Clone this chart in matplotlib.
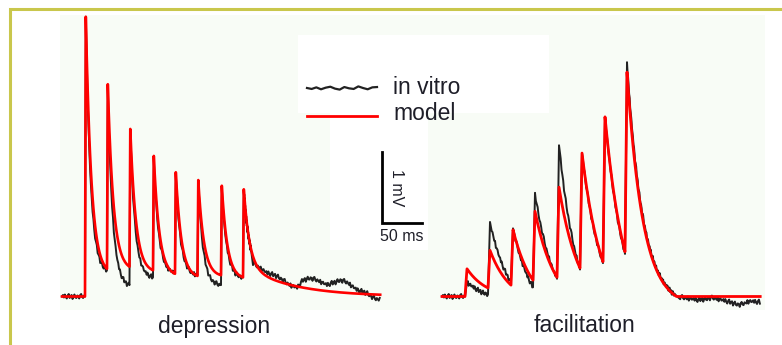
import numpy as np
import matplotlib.pyplot as plt
from matplotlib.patches import Rectangle

plt.rcParams['font.family'] = ['Liberation Sans', 'DejaVu Sans']

# pulse times (ms from first pulse) and responses (mV above rest)
dep_times = [0, 27.5, 55.6, 85, 112.5, 140.6, 170, 197.5]
dep_model_peaks = [3.94, 2.99, 2.36, 1.98, 1.75, 1.64, 1.56, 1.51]
dep_model_troughs = [0.39, 0.42, 0.37, 0.32, 0.29, 0.30, 0.27]
dep_vitro_peaks = [3.94, 2.95, 2.32, 1.95, 1.72, 1.62, 1.54, 1.49]
dep_vitro_troughs = [0.37, 0.16, 0.27, 0.33, 0.30, 0.16, 0.27]
dep_vitro_tail_t = [210, 227.5, 240, 256, 265, 272.5, 281, 290, 302.5, 319, 327.5, 340, 352.5, 360, 369]
dep_vitro_tail_v = [0.47, 0.33, 0.29, 0.16, 0.12, 0.23, 0.26, 0.23, 0.16, 0.23, 0.20, 0.09, 0.05, -0.02, -0.05]

fac_times = [0, 28.75, 57.5, 85, 115, 143.75, 172.5, 200]
fac_model_peaks = [0.39, 0.65, 0.94, 1.20, 1.54, 2.02, 2.53, 3.16]
fac_model_troughs = [0.12, 0.16, 0.23, 0.27, 0.40, 0.49, 0.63]
fac_vitro_peaks = [0.20, 1.05, 0.96, 1.46, 2.13, 2.02, 2.53, 3.30]
fac_vitro_troughs = [0.03, 0.20, 0.13, 0.25, 0.38, 0.47, 0.60]
fac_vitro_tail_t = [269, 290, 310, 331, 344, 355, 369]
fac_vitro_tail_v = [-0.01, -0.05, -0.02, -0.08, -0.12, -0.07, -0.08]

t_start = -28.75
t_end = 369

# recording noise of the in vitro trace (mV), repeated along it
noise = [0.00, 0.03, -0.02, 0.04, -0.01, -0.04, 0.02, 0.05, -0.03, 0.01, 0.03,
         -0.05, 0.00, 0.04, -0.02, -0.03, 0.02, 0.01, -0.04, 0.03, 0.05, -0.01,
         -0.03, 0.02, 0.00, -0.02, 0.04, -0.04, 0.01, 0.03, -0.01]


def build(times, peaks, troughs, tau, rise, tail, tail_until=None,
          tail_t=None, tail_v=None, noisy=False):
    ts = list(np.linspace(t_start, times[0], 25))
    vs = [0.0] * 25
    fixed = [False] * 24 + [True]
    for k, t0 in enumerate(times):
        tp = t0 + rise
        ts.append(tp); vs.append(peaks[k]); fixed.append(True)
        if k < len(times) - 1:
            isi = times[k + 1] - tp
            e = np.exp(-isi / tau)
            floor = (troughs[k] - peaks[k] * e) / (1 - e)
            dt = np.linspace(0, isi, 26)[1:]
            seg = floor + (peaks[k] - floor) * np.exp(-dt / tau)
            ts += list(tp + dt); vs += list(seg)
            fixed += [False] * 24 + [True]
    floor, frac, tau1, tau2 = tail
    stop = tail_until if tail_until else t_end - tp
    dt = np.linspace(0, stop, 90)[1:]
    seg = floor + (peaks[-1] - floor) * (frac * np.exp(-dt / tau1) + (1 - frac) * np.exp(-dt / tau2))
    seg = np.maximum(seg, 0)
    ts += list(tp + dt); vs += list(seg); fixed += [False] * len(dt)
    if tail_t is not None:
        grid = np.arange(tail_t[0], tail_t[-1] + 0.1, 1.2)
        ts += list(grid); vs += list(np.interp(grid, tail_t, tail_v))
        fixed += [False] * len(grid)
    ts = np.array(ts); vs = np.array(vs)
    if noisy:
        for i in range(len(vs)):
            if not fixed[i]:
                vs[i] += 0.7 * noise[i % len(noise)]
    return ts, vs


fig = plt.figure(figsize=(7.82, 3.45), dpi=100)
W, H = 782, 345

# background (pixel coordinates)
bg = fig.add_axes([0, 0, 1, 1], zorder=0)
bg.set_xlim(0, W); bg.set_ylim(H, 0); bg.axis('off')
bg.add_patch(Rectangle((60, 15), 705, 295, facecolor='#f8fcf6', edgecolor='none'))
bg.add_patch(Rectangle((298, 35), 251, 78, facecolor='white', edgecolor='none'))
bg.add_patch(Rectangle((330, 113), 98, 137, facecolor='white', edgecolor='none'))

# traces: px_x = first_pulse + 0.8 * t, px_y = 296.5 - 71 * v
ylim = ((296.5 - H) / 71, 296.5 / 71)
axL = fig.add_axes([0, 0, 1, 1], zorder=1)
axL.set_xlim(-85 / 0.8, (W - 85) / 0.8); axL.set_ylim(*ylim); axL.axis('off')
axR = fig.add_axes([0, 0, 1, 1], zorder=1)
axR.set_xlim(-465 / 0.8, (W - 465) / 0.8); axR.set_ylim(*ylim); axR.axis('off')

t, v = build(dep_times, dep_vitro_peaks, dep_vitro_troughs, 6, 1.0, (0, 0.715, 7, 60),
             tail_until=9, tail_t=dep_vitro_tail_t, tail_v=dep_vitro_tail_v, noisy=True)
axL.plot(t, v, color='#222222', lw=1.4)
t, v = build(dep_times, dep_model_peaks, dep_model_troughs, 7, 1.0, (0, 0.715, 7, 60))
axL.plot(t, v, color='#ff0000', lw=1.9)

t, v = build(fac_times, fac_vitro_peaks, fac_vitro_troughs, 24, 2.5, (-0.15, 1, 20, 20),
             tail_until=60, tail_t=fac_vitro_tail_t, tail_v=fac_vitro_tail_v, noisy=True)
axR.plot(t, v, color='#222222', lw=1.4)
t, v = build(fac_times, fac_model_peaks, fac_model_troughs, 25, 2.5, (-0.15, 1, 20, 20))
axR.plot(t, v, color='#ff0000', lw=2.0)

# scale bar: 50 ms, 1 mV
sx, sy = 370.9, 1.04
axL.plot([sx, sx, sx + 50], [sy + 1, sy, sy], color='black', lw=2.0, solid_joinstyle='miter')
axL.text(sx + 19, sy + 0.5, '1 mV', rotation=270, ha='center', va='center', fontsize=11.5, color='#1e1e28')
axL.text(sx + 25, sy - 0.2, '50 ms', ha='center', va='center', fontsize=11.5, color='#1e1e28')

# legend, labels, frame
top = fig.add_axes([0, 0, 1, 1], zorder=2)
top.set_xlim(0, W); top.set_ylim(H, 0); top.axis('off')
lx = np.linspace(307, 377, 16)
top.plot(lx, 88 + 1.6 * np.array(noise[:16]) / 0.05, color='#222222', lw=1.6)
top.plot([307, 377], [116, 116], color='#ff0000', lw=2.0)
top.text(393, 87, 'in vitro', ha='left', va='center', fontsize=16.5, color='#1e1e28')
top.text(393, 114, 'model', ha='left', va='center', fontsize=16.5, color='#1e1e28')
top.text(214, 326, 'depression', ha='center', va='center', fontsize=16.5, color='#1e1e28')
top.text(584, 325, 'facilitation', ha='center', va='center', fontsize=16.5, color='#1e1e28')
top.plot([9.5, 9.5, W], [H, 9, 9], color='#c9c74c', lw=2.2, solid_joinstyle='miter')

fig.savefig('out.png', dpi=100)
